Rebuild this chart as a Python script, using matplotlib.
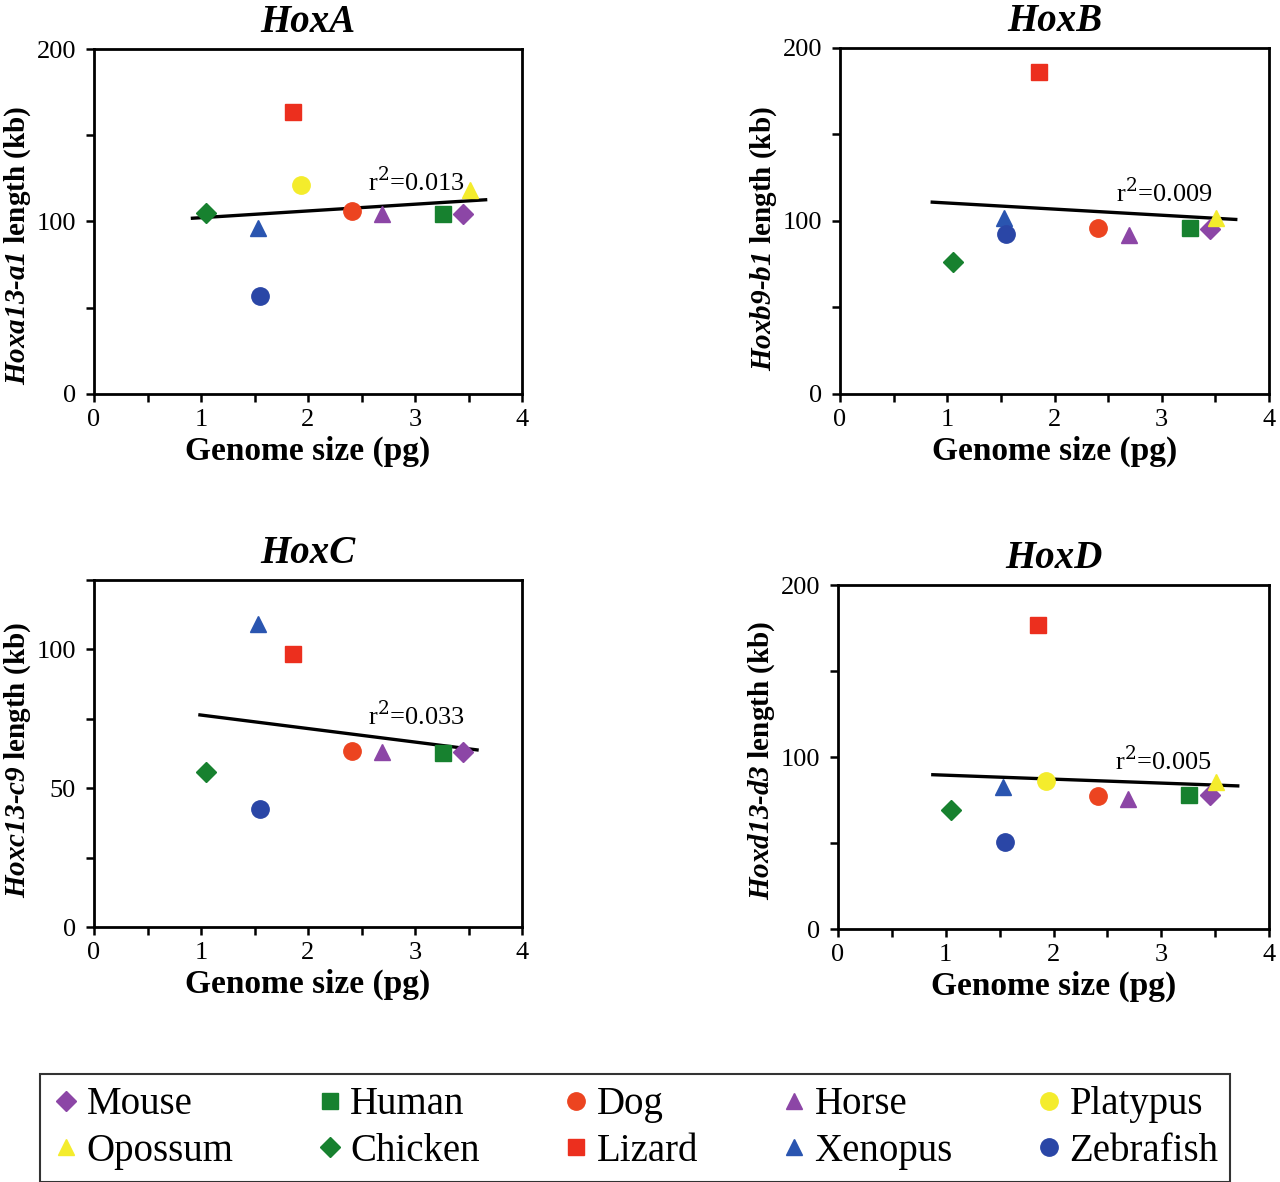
import numpy as np
import matplotlib
matplotlib.use("Agg")
import matplotlib.pyplot as plt
from matplotlib.ticker import MultipleLocator

plt.rcParams['font.family'] = ['Liberation Serif', 'DejaVu Serif']
plt.rcParams['mathtext.fontset'] = 'custom'
plt.rcParams['mathtext.it'] = 'Liberation Serif:italic:bold'
plt.rcParams['mathtext.rm'] = 'Liberation Serif:italic:bold'
plt.rcParams['mathtext.bf'] = 'Liberation Serif:italic:bold'

species = ["Mouse", "Human", "Dog", "Horse", "Platypus",
           "Opossum", "Chicken", "Lizard", "Xenopus", "Zebrafish"]
markers = ["D", "s", "o", "^", "o", "^", "D", "s", "^", "o"]
colors = ["#8c46a6", "#17812f", "#ec4420", "#8c46a6", "#f4ec2c",
          "#f4ec2c", "#17812f", "#ec2f1e", "#2a55b0", "#2a46a6"]

# genome size (pg)
genome = [3.45, 3.26, 2.41, 2.69, 1.93, 3.51, 1.05, 1.86, 1.53, 1.55]

# cluster lengths (kb), None = not plotted
hoxa = [104.3, 104.3, 105.8, 104.5, 121.4, 118.0, 105.2, 163.5, 96.0, 56.9]
hoxb = [95.5, 96.0, 95.8, 91.8, None, 102.0, 76.3, 185.9, 102.0, 92.2]
hoxc = [63.2, 62.6, 63.4, 63.2, None, None, 55.8, 98.3, 109.0, 42.5]
hoxd = [78.1, 77.8, 77.2, 75.8, 86.3, 85.5, 68.9, 176.8, 82.6, 50.7]

# regression line ends
fit_x = [[0.92, 3.66], [0.86, 3.69], [0.99, 3.58], [0.88, 3.71]]
fit_y = [[101.9, 112.6], [110.9, 100.9], [76.4, 63.8], [89.7, 83.2]]
r2_text = ["0.013", "0.009", "0.033", "0.005"]
r2_pos = [(2.56, 123), (2.57, 116), (2.56, 76), (2.57, 97.5)]

titles = ["HoxA", "HoxB", "HoxC", "HoxD"]
genes = ["Hoxa13\\text{-}a1", "Hoxb9\\text{-}b1", "Hoxc13\\text{-}c9", "Hoxd13\\text{-}d3"]
ylabel_y = [0.43, 0.45, 0.48, 0.49]
ymax = [200, 200, 125, 200]
ylab_step = [100, 100, 50, 100]
ymin_step = [50, 50, 25, 50]
values = [hoxa, hoxb, hoxc, hoxd]

W, H = 1280, 1182
fig = plt.figure(figsize=(W / 100, H / 100), dpi=100)

# axes boxes in pixels: left, top, right, bottom
boxes = [(94, 49, 522, 394), (840, 48, 1269, 394),
         (94, 580, 522, 927), (838, 585, 1269, 929)]

msize = {"D": 10, "s": 11.5, "o": 12.5, "^": 12}

for i in range(4):
    l, t, r, b = boxes[i]
    ax = fig.add_axes([l / W, 1 - b / H, (r - l) / W, (b - t) / H])
    ax.plot(fit_x[i], fit_y[i], color="black", lw=2.4, zorder=2)
    for j in range(len(species)):
        if values[i][j] is None:
            continue
        ax.plot(genome[j], values[i][j], marker=markers[j], color=colors[j],
                markersize=msize[markers[j]], linestyle="none", zorder=3)
    ax.text(r2_pos[i][0], r2_pos[i][1], "r$^{\\mathrm{2}}$=" + r2_text[i],
            fontsize=19, va="center", ha="left", zorder=4,
            math_fontfamily="dejavuserif")
    ax.set_xlim(0, 4)
    ax.set_ylim(0, ymax[i])
    ax.xaxis.set_major_locator(MultipleLocator(1))
    ax.xaxis.set_minor_locator(MultipleLocator(0.5))
    ax.yaxis.set_major_locator(MultipleLocator(ylab_step[i]))
    ax.yaxis.set_minor_locator(MultipleLocator(ymin_step[i]))
    ax.tick_params(which="both", direction="out", length=6, width=1.8,
                   labelsize=19)
    ax.tick_params(axis="x", pad=5)
    ax.tick_params(axis="y", pad=7)
    for s in ax.spines.values():
        s.set_linewidth(2)
    ax.set_xlabel("Genome size (pg)", fontsize=24, fontweight="bold", labelpad=3)
    ax.set_ylabel("$" + genes[i] + "$ length (kb)", fontsize=21, fontweight="bold")
    ax.yaxis.set_label_coords(-0.1425, ylabel_y[i])
    ax.set_title(titles[i], fontsize=28, fontweight="bold", fontstyle="italic", pad=12)

# legend, filled column by column so rows read Mouse..Platypus / Opossum..Zebrafish
order = [0, 5, 1, 6, 2, 7, 3, 8, 4, 9]
handles = []
for j in order:
    h, = plt.plot([], [], marker=markers[j], color=colors[j],
                  markersize=msize[markers[j]], linestyle="none")
    handles.append(h)
leg = fig.legend(handles, [species[j] for j in order], ncol=5, loc="center",
                 bbox_to_anchor=(635 / W, 1 - 1128 / H), fontsize=28,
                 frameon=True, fancybox=False, edgecolor="black",
                 handletextpad=0.15, columnspacing=2.1, handlelength=0.75,
                 labelspacing=0.25, borderpad=0.3)
leg.get_frame().set_linewidth(1.5)

fig.savefig("out.png", dpi=100)
